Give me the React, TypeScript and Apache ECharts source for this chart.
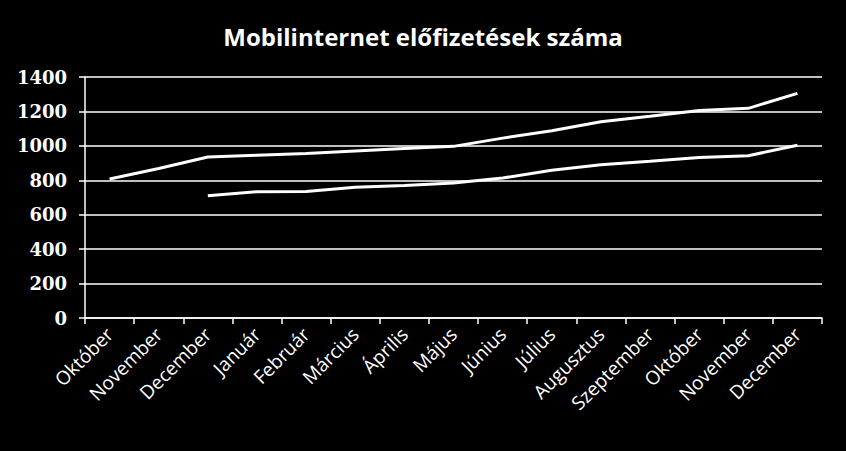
import React, { useEffect, useRef } from "react";
import * as echarts from "echarts";

const categories = [
  "Október", "November", "December", "Január", "Február", "Március", "Április",
  "Május", "Június", "Július", "Augusztus", "Szeptember", "Október", "November", "December",
];
const seriesUpper = [807, 868, 935, 945, 955, 970, 985, 997, 1045, 1088, 1140, 1172, 1206, 1218, 1305];
const seriesLower = [null, null, 710, 734, 735, 759, 770, 784, 813, 858, 890, 910, 933, 943, 1003];
const yTicks = { min: 0, max: 1400, interval: 200 };
const title = "Mobilinternet előfizetések száma";

export default function App() {
  const ref = useRef<HTMLDivElement>(null);
  useEffect(() => {
    document.body.style.margin = "0";
    document.body.style.background = "#000";
    const chart = echarts.init(ref.current!, null, { renderer: "svg" });
    chart.setOption({
      animation: false,
      backgroundColor: "#000",
      title: {
        text: title,
        left: "center",
        top: 19,
        textStyle: { color: "#fff", fontFamily: "Open Sans", fontWeight: "bold", fontSize: 24 },
      },
      grid: { left: 85, right: 24, top: 77, bottom: 133, containLabel: false },
      xAxis: {
        type: "category",
        data: categories,
        boundaryGap: true,
        axisLine: { lineStyle: { color: "#fff", width: 1.5 } },
        axisTick: { show: true, length: 6, lineStyle: { color: "#fff", width: 1.5 } },
        axisLabel: {
          color: "#fff",
          rotate: 45,
          fontFamily: "Open Sans",
          fontSize: 19,
          margin: 13,
          interval: 0,
        },
      },
      yAxis: {
        type: "value",
        min: yTicks.min,
        max: yTicks.max,
        interval: yTicks.interval,
        axisLine: { show: true, lineStyle: { color: "#fff", width: 1.5 } },
        axisTick: { show: true, length: 6, lineStyle: { color: "#fff", width: 1.5 } },
        splitLine: { show: true, lineStyle: { color: "#fff", width: 1.5 } },
        axisLabel: {
          color: "#fff",
          fontFamily: "DejaVu Serif",
          fontWeight: "bold",
          fontSize: 18,
          margin: 18,
          formatter: (v: number) => String(v),
        },
      },
      series: [
        {
          type: "line",
          data: seriesUpper,
          symbol: "none",
          lineStyle: { color: "#fff", width: 3 },
        },
        {
          type: "line",
          data: seriesLower,
          symbol: "none",
          lineStyle: { color: "#fff", width: 3 },
        },
      ],
    });
    return () => chart.dispose();
  }, []);
  return <div ref={ref} style={{ width: 846, height: 451, background: "#000" }} />;
}
